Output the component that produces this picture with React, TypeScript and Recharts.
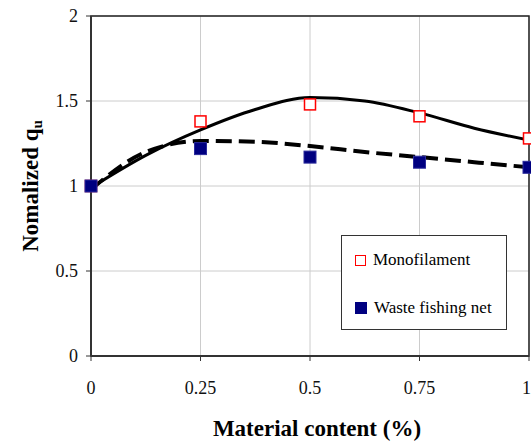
import React from "react";
import {
  ComposedChart,
  Line,
  Scatter,
  XAxis,
  YAxis,
  CartesianGrid,
  ReferenceArea,
  Legend,
} from "recharts";

// measured points
const contents = [0, 0.25, 0.5, 0.75, 1];
const monofilament = [1.0, 1.38, 1.48, 1.41, 1.28];
const wasteNet = [1.0, 1.22, 1.17, 1.14, 1.11];

// fitted trend curves
const trendContents = [0, 0.125, 0.25, 0.375, 0.5, 0.625, 0.75, 0.875, 1];
const monoTrend = [0.99, 1.18, 1.33, 1.45, 1.52, 1.5, 1.43, 1.34, 1.27];
const netTrend = [0.98, 1.2, 1.265, 1.26, 1.235, 1.2, 1.17, 1.14, 1.11];

const xTicks = [0, 0.25, 0.5, 0.75, 1];
const yTicks = [0, 0.5, 1, 1.5, 2];

const FONT = "Liberation Serif, Times New Roman, serif";

const toPoints = (xs: number[], ys: number[]) =>
  xs.map((x, i) => ({ x, y: ys[i] }));

const monoPoints = toPoints(contents, monofilament);
const netPoints = toPoints(contents, wasteNet);
const monoCurve = toPoints(trendContents, monoTrend);
const netCurve = toPoints(trendContents, netTrend);

const OpenSquare = (props: any) => {
  const { cx, cy } = props;
  return (
    <rect
      x={cx - 5.5}
      y={cy - 5.5}
      width={11}
      height={11}
      fill="#ffffff"
      stroke="#ff0000"
      strokeWidth={1.5}
    />
  );
};

const FilledSquare = (props: any) => {
  const { cx, cy } = props;
  return (
    <rect
      x={cx - 6}
      y={cy - 6}
      width={12}
      height={12}
      fill="#000080"
      stroke="#2b2b9c"
      strokeWidth={1}
    />
  );
};

const YTitle = () => (
  <text
    x={38}
    y={186}
    transform="rotate(-90, 38, 186)"
    textAnchor="middle"
    style={{ fontFamily: FONT }}
    fontWeight="bold"
    fontSize={23}
    fill="#000"
  >
    Nomalized q
    <tspan fontSize={15} dy={4}>
      u
    </tspan>
  </text>
);

const XTitle = () => (
  <text
    x={317}
    y={436}
    textAnchor="middle"
    style={{ fontFamily: FONT }}
    fontWeight="bold"
    fontSize={23}
    fill="#000"
  >
    Material content (%)
  </text>
);

const LegendBox = () => (
  <div
    style={{
      width: 166,
      height: 95,
      boxSizing: "border-box",
      border: "1px solid #333",
      background: "#fff",
      fontFamily: FONT,
      fontSize: 17,
      color: "#000",
      position: "relative",
    }}
  >
    <div style={{ position: "absolute", left: 13, top: 14, display: "flex", alignItems: "center" }}>
      <span
        style={{
          display: "inline-block",
          width: 9,
          height: 9,
          border: "1.5px solid #ff0000",
          marginRight: 7,
        }}
      />
      Monofilament
    </div>
    <div style={{ position: "absolute", left: 13, top: 62, display: "flex", alignItems: "center" }}>
      <span
        style={{
          display: "inline-block",
          width: 12,
          height: 12,
          background: "#000080",
          marginRight: 7,
        }}
      />
      Waste fishing net
    </div>
  </div>
);

export default function App() {
  return (
    <div style={{ position: "absolute", left: 0, top: 0, background: "#fff", fontFamily: FONT }}>
      <ComposedChart
        width={531}
        height={441}
        margin={{ top: 16, right: 2, bottom: 0, left: 0 }}
        style={{ fontFamily: FONT }}
      >
        <CartesianGrid stroke="#cccccc" strokeWidth={1} />
        <XAxis
          type="number"
          dataKey="x"
          domain={[0, 1]}
          ticks={xTicks}
          tickFormatter={(v: number) => String(v)}
          height={85}
          tickSize={5}
          tickMargin={20}
          axisLine={{ stroke: "#333", strokeWidth: 2 }}
          tickLine={{ stroke: "#333" }}
          tick={{ fontSize: 18, fill: "#111" }}
          label={XTitle}
        />
        <YAxis
          type="number"
          dataKey="y"
          domain={[0, 2]}
          ticks={yTicks}
          width={91}
          tickSize={5}
          tickMargin={8}
          axisLine={{ stroke: "#333", strokeWidth: 2 }}
          tickLine={{ stroke: "#333" }}
          tick={{ fontSize: 18, fill: "#111" }}
          label={YTitle}
        />
        <ReferenceArea
          x1={0}
          x2={1}
          y1={0}
          y2={2}
          fill="none"
          stroke="#222"
          strokeWidth={1.5}
        />
        <Scatter
          name="Monofilament"
          data={monoPoints}
          shape={OpenSquare}
          isAnimationActive={false}
        />
        <Scatter
          name="Waste fishing net"
          data={netPoints}
          shape={FilledSquare}
          isAnimationActive={false}
        />
        <Line
          data={monoCurve}
          dataKey="y"
          type="monotone"
          stroke="#000"
          strokeWidth={3}
          dot={false}
          activeDot={false}
          legendType="none"
          isAnimationActive={false}
        />
        <Line
          data={netCurve}
          dataKey="y"
          type="monotone"
          stroke="#000"
          strokeWidth={4}
          strokeDasharray="16 7"
          dot={false}
          activeDot={false}
          legendType="none"
          isAnimationActive={false}
        />
        <Legend
          layout="horizontal"
          verticalAlign="middle"
          align="center"
          content={LegendBox}
          wrapperStyle={{ left: 341, top: 235, width: 166, height: 95 }}
        />
      </ComposedChart>
    </div>
  );
}
